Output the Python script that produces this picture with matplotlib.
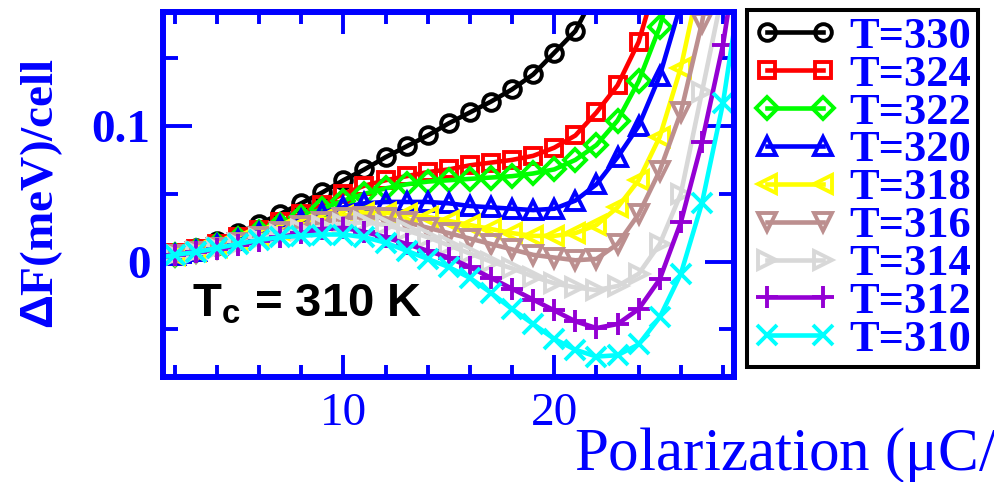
import numpy as np
import matplotlib
matplotlib.use("Agg")
import matplotlib.pyplot as plt
from matplotlib.ticker import MultipleLocator

plt.rcParams['mathtext.fontset'] = 'custom'
plt.rcParams['mathtext.bf'] = 'Liberation Sans:bold'
plt.rcParams['mathtext.rm'] = 'Liberation Sans:bold'

# polarization grid (uC/cm^2) and free energy curves (meV/cell)
P = np.arange(1, 30)

labels = ['T=330', 'T=324', 'T=322', 'T=320', 'T=318', 'T=316', 'T=314', 'T=312', 'T=310']

f330 = [.002, .006, .010, .015, .021, .028, .035, .043, .051, .060, .068, .077, .085, .093,
        .102, .110, .118, .127, .138, .154, .170, .200]
f324 = [.002, .006, .009, .013, .018, .023, .029, .035, .042, .050, .056, .060, .063, .066,
        .068, .071, .073, .075, .078, .084, .093, .110, .130, .162, .215]
f322 = [.002, .005, .008, .012, .017, .022, .027, .033, .039, .045, .050, .054, .057, .059,
        .060, .061, .062, .063, .065, .068, .075, .086, .104, .133, .173, .230]
f320 = [.002, .005, .008, .012, .016, .021, .026, .031, .036, .040, .043, .044, .044, .044,
        .043, .041, .040, .039, .038, .039, .045, .057, .077, .100, .137, .190]
f318 = [.002, .005, .008, .011, .015, .019, .023, .027, .031, .034, .036, .036, .035, .033,
        .030, .027, .024, .021, .019, .019, .021, .027, .040, .060, .092, .143, .215]
f316 = [.002, .005, .007, .010, .014, .018, .022, .026, .029, .032, .033, .032, .029, .025,
        .021, .017, .013, .009, .005, .003, .001, .002, .013, .035, .067, .110, .176, .260]
f314 = [.002, .005, .007, .010, .013, .017, .020, .023, .026, .028, .029, .027, .023, .018,
        .012, .006, .000, -.005, -.011, -.016, -.019, -.021, -.018, -.009, .013, .050, .125, .200]
f312 = [.002, .005, .007, .009, .012, .015, .018, .021, .024, .025, .022, .018, .013, .008,
        .003, -.004, -.012, -.020, -.028, -.036, -.044, -.049, -.046, -.035, -.013, .029, .088,
        .160, .260]
f310 = [.002, .005, .007, .010, .013, .016, .018, .019, .020, .020, .018, .014, .008, .002,
        -.004, -.012, -.023, -.035, -.046, -.057, -.065, -.070, -.069, -.061, -.041, -.009, .043,
        .117, .220]

series = [f330, f324, f322, f320, f318, f316, f314, f312, f310]
colors = ['black', 'red', '#00ff00', 'blue', 'yellow', '#bc8f8f', '#d8d8d8', '#9400d3', 'cyan']
markers = ['o', 's', 'D', '^', '<', 'v', '>', '+', 'x']
msizes = [12, 12, 11, 13, 13, 13, 13, 16, 14]

blue = '#0000ff'

fig = plt.figure(figsize=(9.94, 4.82), dpi=100)
ax = fig.add_axes([0.164, 0.218, 0.574, 0.757])

for vals, lab, c, m, ms in zip(series, labels, colors, markers, msizes):
    ax.plot(P[:len(vals)], vals, color=c, lw=3.3, marker=m, ms=ms, mfc='none',
            mec=c, mew=2.8, label=lab)

ax.set_xlim(1.45, 28.5)
ax.set_ylim(-0.085, 0.184)

ax.xaxis.set_major_locator(MultipleLocator(10))
ax.xaxis.set_minor_locator(MultipleLocator(2))
ax.yaxis.set_major_locator(MultipleLocator(0.1))
ax.yaxis.set_minor_locator(MultipleLocator(0.05))
ax.set_xticks([10, 20])
ax.set_xticklabels(['10', '20'])
ax.set_yticks([0, 0.1])
ax.set_yticklabels(['0', '0.1'])

for s in ax.spines.values():
    s.set_color(blue)
    s.set_linewidth(4.3)

ax.tick_params(axis='both', which='both', direction='in', top=True, right=True,
               color=blue, width=2.8, labelcolor=blue)
ax.tick_params(axis='x', which='major', length=16, pad=11)
ax.tick_params(axis='x', which='minor', length=8.5)
ax.tick_params(axis='y', which='major', length=21, pad=9)
ax.tick_params(axis='y', which='minor', length=11)

for t in ax.get_xticklabels():
    t.set_fontfamily('Liberation Serif')
    t.set_fontsize(34)
for t in ax.get_yticklabels():
    t.set_fontfamily('Liberation Serif')
    t.set_fontsize(34)
    t.set_fontweight('bold')

fig.text(42 / 994, 1 - 193 / 482, r'$\Delta$F(meV)/cell', rotation=90, ha='center', va='center',
         color=blue, fontsize=34, fontweight='bold', family='Liberation Serif')
fig.text(574 / 994, 1 - 470 / 482, 'Polarization (\u03bcC/cm$^2$)', ha='left', va='baseline',
         color=blue, fontsize=44, family='Liberation Serif')

# annotation, placed in pixels from the lower-left corner
ax.text(192, 482 - 317, r'T$_{\mathbf{c}}$ = 310 K', transform=None, fontsize=34,
        fontweight='bold', family='Liberation Sans', color='black', ha='left', va='baseline')

leg = fig.legend(loc='upper left', bbox_to_anchor=(747 / 994, 1 - 10 / 482), borderaxespad=0,
                 numpoints=2, handlelength=1.85, handletextpad=0.3, labelspacing=-0.05,
                 borderpad=0.15, fancybox=False, framealpha=1,
                 prop={'family': 'Liberation Serif', 'weight': 'bold', 'size': 32})
leg.get_frame().set_edgecolor('black')
leg.get_frame().set_linewidth(2.9)
for t in leg.get_texts():
    t.set_color(blue)

fig.savefig('out.png', dpi=100)
